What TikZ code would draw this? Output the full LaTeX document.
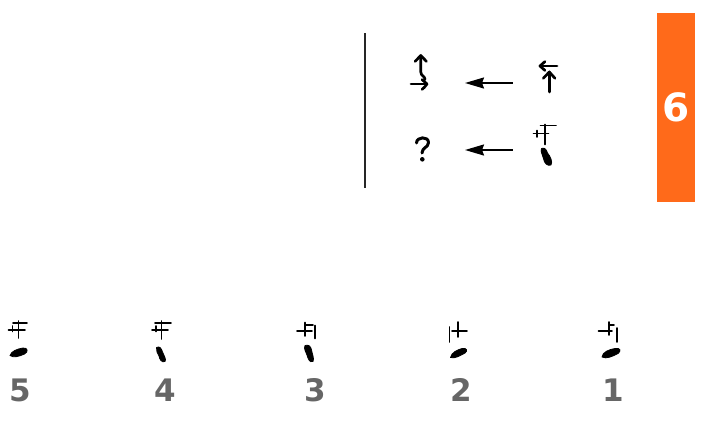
\documentclass[tikz,border=0pt]{standalone}
\usepackage{fontspec}
\setmainfont{DejaVu Sans}
\usetikzlibrary{arrows.meta}
\definecolor{tabor}{RGB}{255,106,26}
\definecolor{numgrey}{RGB}{102,102,102}
\tikzset{
  thin glyph/.style={line width=1.8pt, line cap=round},
  thick glyph/.style={line width=2.7pt, line cap=round, line join=round},
  blob/.style={fill=black, draw=black, line width=0.8pt, line join=round},
  conn/.style={-{Stealth[length=19pt,width=11pt,inset=2pt]}, line width=2pt},
  num/.style={font=\bfseries\fontsize{31}{31}\selectfont, text=numgrey, inner sep=0pt},
  tabnum/.style={font=\bfseries\fontsize{39}{39}\selectfont, text=white, inner sep=0pt}
}
\begin{document}
\begin{tikzpicture}[x=1pt,y=-1pt]
\useasboundingbox (0,0) rectangle (701,432);
% separator
\draw[line width=1.6pt, black!85] (365,33) -- (365,188);
% orange tab
\fill[tabor] (657,12.5) rectangle (695,201.5);
\node[tabnum] (tab) at (676.5,107) {6};
% ---------- top-left glyph ----------
\draw[thick glyph] (415,61.5) -- (420.8,55.5) -- (426.5,61.5);
\draw[thick glyph] (420.8,56) -- (420.8,72) .. controls (420.8,76) and (425,76) .. (425,79.5);
\draw[thick glyph] (411,84) -- (427,84);
\draw[thick glyph] (422,79.5) -- (427,84) .. controls (426,87) and (423,87.5) .. (422,89.5);
\coordinate (gA) at (421,73);
% ---------- top-right glyph ----------
\draw[thick glyph] (545,61.5) -- (540,66) -- (545,70.5);
\draw[thick glyph] (540,66) -- (557,66);
\draw[thick glyph] (543.3,78.3) -- (549.3,72) -- (555,78.3);
\draw[thick glyph] (549.3,72) -- (549.3,92);
\coordinate (gB) at (548,77);
% ---------- question mark ----------
\draw[thick glyph, line width=3pt] (416.5,143) .. controls (416.5,136.5) and (428.5,136) .. (428.5,142.5) .. controls (428.5,147.5) and (422,147.5) .. (422,153);
\fill (422.3,159.3) circle (2.3);
\coordinate (gC) at (422,149);
% ---------- lower-right glyph ----------
\draw[thin glyph] (540.5,125.5) -- (556,125.5);
\draw[thin glyph] (533.5,133.5) -- (548.5,133.5);
\draw[thin glyph] (545,124.5) -- (545,144.5);
\draw[thin glyph] (537,130.5) -- (537,137);
\filldraw[blob] (541.5,148.5) .. controls (545,147) and (546.5,150) .. (547.5,153) .. controls (550,156) and (553,161.5) .. (551,165) .. controls (547.5,166.5) and (544,163) .. (543.5,158.5) .. controls (543,155) and (540,152) .. (541.5,148.5) -- cycle;
\coordinate (gD) at (545,146);
% ---------- connectors ----------
\coordinate (aB) at (512.5,83);
\coordinate (aA) at (465,83);
\coordinate (aD) at (512.5,150);
\coordinate (aC) at (465,150);
\draw[conn] (aB) -- (aA);
\draw[conn] (aD) -- (aC);
% ---------- bottom glyph 5 ----------
\draw[thin glyph] (13,323) -- (27,323);
\draw[thin glyph] (18.5,321) -- (18.5,338);
\draw[thin glyph] (8.5,330) -- (25,330);
\draw[thin glyph] (12.5,326) -- (12.5,331.5);
\filldraw[blob] (10,355.5) .. controls (11.5,351) and (17,349) .. (23,348) .. controls (28,347.5) and (28.5,352) .. (24.5,354) .. controls (19,356.5) and (13.5,358) .. (10,355.5) -- cycle;
\node[num] (n5) at (20,390) {5};
% ---------- bottom glyph 4 ----------
\draw[thin glyph] (155,323) -- (171,323);
\draw[thin glyph] (161.5,321) -- (161.5,339);
\draw[thin glyph] (152,330) -- (168,330);
\draw[thin glyph] (156,326) -- (156,331.5);
\filldraw[blob] (156.5,347.5) .. controls (160,345.5) and (161.5,349) .. (162.5,352) .. controls (164,355.5) and (166.5,359.5) .. (165,361.5) .. controls (161.5,363) and (159.5,359) .. (159,356) .. controls (158,353) and (155.5,351) .. (156.5,347.5) -- cycle;
\node[num] (n4) at (165,390) {4};
% ---------- bottom glyph 3 ----------
\draw[thin glyph] (297,331) -- (312,331);
\draw[thin glyph] (305,322.5) -- (305,336);
\draw[thin glyph] (305,325) -- (313,325);
\draw[thin glyph] (315,325.5) -- (315,338.5);
\filldraw[blob] (305,345.5) .. controls (309,344) and (311,347) .. (311.5,350) .. controls (312,353.5) and (314.5,358.5) .. (313,361.5) .. controls (309.5,363) and (308,358.5) .. (307,355) .. controls (306,352) and (303.5,349) .. (305,345.5) -- cycle;
\node[num] (n3) at (315,390) {3};
% ---------- bottom glyph 2 ----------
\draw[thin glyph] (449.5,327) -- (449.5,342);
\draw[thin glyph] (458.3,322) -- (458.3,337);
\draw[thin glyph] (452,331) -- (467,331);
\filldraw[blob] (450.5,357.5) .. controls (451.5,352.5) and (457,350) .. (462,348.5) .. controls (467,347.5) and (468,351) .. (465,353) .. controls (460,355.5) and (455,359) .. (450.5,357.5) -- cycle;
\node[num] (n2) at (461.5,390) {2};
% ---------- bottom glyph 1 ----------
\draw[thin glyph] (598.5,331) -- (612,331);
\draw[thin glyph] (609.3,322) -- (609.3,335);
\draw[thin glyph] (609.3,325) -- (614,325);
\draw[thin glyph] (617,328) -- (617,342);
\filldraw[blob] (602,357) .. controls (602.5,352) and (609,349.5) .. (615,348.5) .. controls (620.5,347.5) and (621.5,351) .. (618,353.5) .. controls (613,356) and (606.5,359.5) .. (602,357) -- cycle;
\node[num] (n1) at (613.3,390) {1};
\end{tikzpicture}
\end{document}
